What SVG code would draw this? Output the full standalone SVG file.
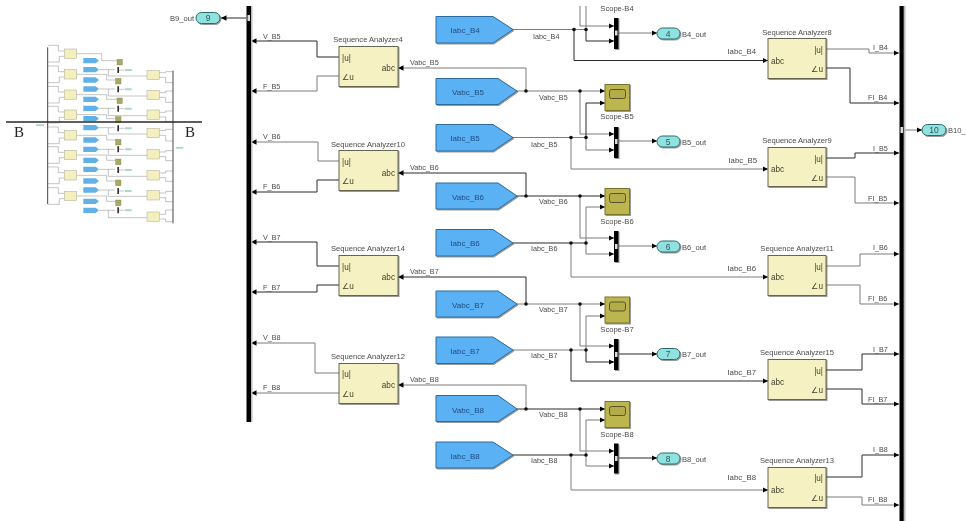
<svg xmlns="http://www.w3.org/2000/svg" width="966" height="521" viewBox="0 0 966 521">
<style>
text{font-family:"Liberation Sans","DejaVu Sans",sans-serif;font-size:7.600px;fill:#4a4a4a}
#connectors text{font-size:7.200px}
#connectors text.r{font-size:7.800px}
.c{text-anchor:middle}
.e{text-anchor:end}
.tag{fill:#5ab2f4;stroke:#2f6a9c;stroke-width:1;filter:url(#sh)}
.tt{fill:#1f4a80;font-size:8px;text-anchor:middle}
.sa{fill:#f5f1c3;stroke:#66664f;stroke-width:1;filter:url(#sh)}
.pt{fill:#3f3f2a;font-size:8.200px}
.sc{fill:#bdb650;stroke:#77752f;stroke-width:1;filter:url(#sh)}
.scr{fill:#b3ac4a;stroke:#55522a;stroke-width:1}
.mx{fill:#000;filter:url(#sh)}
.hp{fill:#ddd}
.op{fill:#8fe2df;stroke:#2f6a6c;stroke-width:1;filter:url(#sh)}
.ot{font-size:8.500px;text-anchor:middle;fill:#2c5a5a}
.d,.g{fill:none;stroke-width:1}
.d{stroke:#2c2c2c}
.g{stroke:#7d7d7d}
.a{marker-end:url(#ah)}
.dot{fill:#111}
.bus{fill:#000}
.bs{fill:#bbb}
.tb{fill:#f4efbf;stroke:#a9a98a;stroke-width:1.500}
.tw{fill:none;stroke:#8a8a8a;stroke-width:1.500}
.tg{fill:#62b1e6}
.ts{fill:#a8a965;stroke:#77773f;stroke-width:1}
.tm{fill:#333}
.to{fill:#a9d5d5}
</style>
<defs>
<marker id="ah" markerUnits="userSpaceOnUse" markerWidth="6" markerHeight="6" refX="5.500" refY="3" orient="auto"><path d="M0 .3L5.500 3L0 5.700z" fill="#000"/></marker>
<filter id="sh" x="-10%" y="-10%" width="125%" height="125%"><feDropShadow dx="1" dy="1" stdDeviation=".6" flood-color="#555" flood-opacity=".6"/></filter>
<filter id="bl" x="-5%" y="-5%" width="110%" height="110%"><feGaussianBlur stdDeviation=".45"/></filter>
<filter id="soft" filterUnits="userSpaceOnUse" x="0" y="0" width="966" height="521"><feGaussianBlur stdDeviation=".3"/></filter>
</defs>
<rect width="966" height="521" fill="#fff"/>
<g filter="url(#soft)">

<g id="overview">
<g filter="url(#bl)" transform="translate(0 30) scale(.33333)">
<path class="tw" d="M143 46H175V63H193M143 96H178V79H193M143 108H175V125H193M143 158H178V141H193M143 169H175V186H193M143 219H178V202H193M143 229H175V246H193M143 279H178V262H193M143 291H175V308H193M143 341H178V324H193M143 350H175V367H193M143 400H178V383H193M143 411H175V428H193M143 461H178V444H193M143 473H175V490H193M143 523H178V506H193"/>
<path class="tw" d="M230 71H305V92H351M230 133H320V150H351M230 194H320V208H351M230 254H320V266H351M230 316H320V330H351M230 375H320V391H351M230 436H320V453H351M230 498H320V514H351"/>
<path class="tw" d="M297 119H345M325 119V138H441M297 177H345M325 177V198H441M297 235H345M325 235V257H441M297 293H345M325 293V312H441M297 358H345M325 358V376H441M297 418H345M325 418V439H441M297 480H345M325 480V499H441M297 541H345M325 541V563H441"/>
<path class="tw" d="M357 120H373M357 178H373M357 236H373M357 295H373M357 358H373M357 420H373M357 483H373M357 541H373"/>
<path class="tw" d="M478 128H497V125H519M478 142H497V158H519M478 188H497V183H519M478 202H497V217H519M478 247H497V243H519M478 261H497V275H519M478 302H497V298H519M478 316H497V333H519M478 366H497V362H519M478 380H497V392H519M478 429H497V423H519M478 443H497V454H519M478 489H497V484H519M478 503H497V515H519M478 553H497V540H519M478 567H497V575H519"/>
<path d="M143 52V522M519 122V580" fill="none" stroke="#444" stroke-width="3"/>
<rect class="tb" x="193" y="57" width="37" height="28"/><rect class="tb" x="193" y="119" width="37" height="28"/><rect class="tb" x="193" y="180" width="37" height="28"/><rect class="tb" x="193" y="240" width="37" height="28"/><rect class="tb" x="193" y="302" width="37" height="28"/><rect class="tb" x="193" y="361" width="37" height="28"/><rect class="tb" x="193" y="422" width="37" height="28"/><rect class="tb" x="193" y="484" width="37" height="28"/>
<rect class="tb" x="441" y="121" width="37" height="28"/><rect class="tb" x="441" y="181" width="37" height="28"/><rect class="tb" x="441" y="240" width="37" height="28"/><rect class="tb" x="441" y="295" width="37" height="28"/><rect class="tb" x="441" y="359" width="37" height="28"/><rect class="tb" x="441" y="422" width="37" height="28"/><rect class="tb" x="441" y="482" width="37" height="28"/><rect class="tb" x="441" y="546" width="37" height="28"/>
<path class="tg" d="M250 84H287L297 92L287 100H250zM250 111H287L297 119L287 127H250zM250 142H287L297 150L287 158H250zM250 169H287L297 177L287 185H250zM250 200H287L297 208L287 216H250zM250 227H287L297 235L287 243H250zM250 258H287L297 266L287 274H250zM250 285H287L297 293L287 301H250zM250 322H287L297 330L287 338H250zM250 350H287L297 358L287 366H250zM250 383H287L297 391L287 399H250zM250 410H287L297 418L287 426H250zM250 445H287L297 453L287 461H250zM250 472H287L297 480L287 488H250zM250 506H287L297 514L287 522H250zM250 533H287L297 541L287 549H250z"/>
<rect class="ts" x="351" y="88" width="16" height="17"/><rect class="ts" x="347" y="145" width="16" height="17"/><rect class="ts" x="351" y="204" width="16" height="17"/><rect class="ts" x="347" y="260" width="16" height="17"/><rect class="ts" x="347" y="328" width="16" height="17"/><rect class="ts" x="347" y="387" width="16" height="17"/><rect class="ts" x="347" y="450" width="16" height="17"/><rect class="ts" x="347" y="510" width="16" height="17"/>
<path class="tm" d="M352 111h5v18h-5zM352 169h5v18h-5zM352 227h5v18h-5zM352 286h5v18h-5zM352 349h5v18h-5zM352 411h5v18h-5zM352 474h5v18h-5zM352 532h5v18h-5z"/>
<path class="to" d="M375 117h20v6h-20zM375 175h20v6h-20zM375 233h20v6h-20zM375 292h20v6h-20zM375 355h20v6h-20zM375 417h20v6h-20zM375 480h20v6h-20zM375 538h20v6h-20zM108 283h24v5h-24zM528 351h22v5h-22z"/>
</g>
<path d="M6 122H202" stroke="#2a2a2a" stroke-width="1.700" fill="none"/>
<text x="14" y="137" style="font-family:'Liberation Serif',serif;font-size:15px;fill:#222">B</text>
<text x="185" y="137" style="font-family:'Liberation Serif',serif;font-size:15px;fill:#222">B</text>
</g>

<g id="connectors">
<path class="d a" d="M246 18H221"/>
<path class="d a" d="M339 57H317V41H251"/><path class="g a" d="M339 76H317V91H251"/>
<path class="g a" d="M339 161H318V142H251"/><path class="d a" d="M339 180H317V192H251"/>
<path class="d a" d="M339 266H317V242H251"/><path class="d a" d="M339 285H317V292H251"/>
<path class="g a" d="M339 373H315V343H251"/><path class="g a" d="M339 393H251"/>

<path class="g a" d="M526 91V68H398"/><path class="d a" d="M526 196V173H398"/><path class="d a" d="M526 304V277H398"/><path class="g a" d="M526 409V385H398"/>

<path class="g" d="M513 29.500H586"/><path class="d a" d="M574 29.500V60.500H768"/>
<path class="g a" d="M580 6V26H614"/><path class="g" d="M586 6V29.500"/><path class="d a" d="M586 29.500V41H614"/>
<path class="g a" d="M619 33H657"/>

<path class="g a" d="M517 91H605"/><path class="g a" d="M580 91V134H614"/><path class="d a" d="M586 137.500V103H605"/>
<path class="g" d="M513 137.500H586"/><path class="g a" d="M586 137.500V150H614"/><path class="g a" d="M571 137.500V169H768"/><path class="g a" d="M619 141H657"/>

<path class="d a" d="M517 196H605"/><path class="g a" d="M580 196V238H614"/><path class="g a" d="M586 243V207H605"/>
<path class="d" d="M513 243H586"/><path class="g a" d="M586 243V254H614"/><path class="g a" d="M571 243V277H768"/><path class="g a" d="M619 246H657"/>

<path class="g a" d="M517 304H605"/><path class="g a" d="M580 304V346H614"/><path class="g a" d="M586 350V316H605"/>
<path class="g" d="M513 350H586"/><path class="d a" d="M586 350V362H614"/><path class="d a" d="M571 350V381H768"/><path class="d a" d="M619 354H657"/>

<path class="d a" d="M517 409H605"/><path class="g a" d="M580 409V451H614"/><path class="g a" d="M586 455V420H605"/>
<path class="d" d="M513 455H586"/><path class="g a" d="M586 455V466H614"/><path class="g a" d="M571 455V490H768"/><path class="d a" d="M619 458H657"/>

<path class="g a" d="M826 49H869V53H899"/><path class="d a" d="M826 68H850V103H899"/>
<path class="d a" d="M826 158H855V153H899"/><path class="g a" d="M826 177H855V203H899"/>
<path class="g a" d="M826 266H860V254H899"/><path class="g a" d="M826 285H860V304H899"/>
<path class="d a" d="M826 370H862V354H899"/><path class="d a" d="M826 389H862V404H899"/>
<path class="d a" d="M826 477H862V455H899"/><path class="g a" d="M826 497H862V505H899"/>
<path class="g a" d="M904 130H922"/>

<g class="dot">
<circle cx="574" cy="29.500" r="1.800"/><circle cx="586" cy="29.500" r="1.800"/>
<circle cx="526" cy="91" r="1.800"/><circle cx="580" cy="91" r="1.800"/><circle cx="571" cy="137.500" r="1.800"/><circle cx="586" cy="137.500" r="1.800"/>
<circle cx="526" cy="196" r="1.800"/><circle cx="580" cy="196" r="1.800"/><circle cx="571" cy="243" r="1.800"/><circle cx="586" cy="243" r="1.800"/>
<circle cx="526" cy="304" r="1.800"/><circle cx="580" cy="304" r="1.800"/><circle cx="571" cy="350" r="1.800"/><circle cx="586" cy="350" r="1.800"/>
<circle cx="526" cy="409" r="1.800"/><circle cx="580" cy="409" r="1.800"/><circle cx="571" cy="455" r="1.800"/><circle cx="586" cy="455" r="1.800"/>
</g>

<text x="263" y="38.500">V_B5</text><text x="263" y="88.500">F_B5</text>
<text x="263" y="138.500">V_B6</text><text x="263" y="188.500">F_B6</text>
<text x="263" y="239.500">V_B7</text><text x="263" y="289.500">F_B7</text>
<text x="263" y="339.500">V_B8</text><text x="263" y="389.500">F_B8</text>
<text x="410" y="65">Vabc_B5</text><text x="410" y="169.500">Vabc_B6</text><text x="410" y="274">Vabc_B7</text><text x="410" y="382">Vabc_B8</text>
<text x="533" y="38.500">Iabc_B4</text><text x="531" y="146.500">Iabc_B5</text><text x="531" y="250.500">Iabc_B6</text><text x="531" y="358">Iabc_B7</text><text x="531" y="463">Iabc_B8</text>
<text x="539" y="100">Vabc_B5</text><text x="539" y="204">Vabc_B6</text><text x="539" y="312">Vabc_B7</text><text x="539" y="417">Vabc_B8</text>
<text class="e r" x="756" y="53.500">Iabc_B4</text><text class="e r" x="757" y="162.500">Iabc_B5</text><text class="e r" x="756" y="270.500">Iabc_B6</text><text class="e r" x="756" y="375">Iabc_B7</text><text class="e r" x="756" y="479.500">Iabc_B8</text>
<text x="873" y="50">I_B4</text><text x="868" y="100">FI_B4</text>
<text x="873" y="151">I_B5</text><text x="868" y="200.500">FI_B5</text>
<text x="873" y="250">I_B6</text><text x="868" y="301">FI_B6</text>
<text x="873" y="351.500">I_B7</text><text x="868" y="401.500">FI_B7</text>
<text x="873" y="451.500">I_B8</text><text x="868" y="502">FI_B8</text>
</g>

<g id="bus-left"><rect class="bs" x="251" y="6" width="1.500" height="416"/><rect class="bus" x="246.500" y="6" width="4.500" height="416"/><rect class="hp" x="247.500" y="15" width="2.500" height="6"/></g>
<g id="bus-right"><rect class="bs" x="903.500" y="6" width="2" height="515"/><rect class="bus" x="899.500" y="6" width="4.200" height="515"/><rect class="hp" x="900.500" y="127" width="2.500" height="6"/></g>

<g id="out-b9"><rect class="op" x="196" y="12.500" width="24" height="11" rx="5.500"/><text class="ot" x="208" y="21">9</text><text class="e" x="194" y="20.500">B9_out</text></g>
<g id="out-b10"><rect class="op" x="922" y="124.500" width="24" height="11" rx="5.500"/><text class="ot" x="934" y="133">10</text><text x="948" y="133">B10_</text></g>

<g id="sa4"><rect class="sa" x="339" y="46.500" width="59" height="40"/><text class="c" x="368" y="41.500">Sequence Analyzer4</text><text class="pt" x="342" y="60.500">|u|</text><text class="pt" x="342" y="80">∠u</text><text class="pt e" x="395" y="71">abc</text></g>
<g id="sa10"><rect class="sa" x="339" y="150.500" width="59" height="40"/><text class="c" x="368" y="146.500">Sequence Analyzer10</text><text class="pt" x="342" y="164.500">|u|</text><text class="pt" x="342" y="184">∠u</text><text class="pt e" x="395" y="176">abc</text></g>
<g id="sa14"><rect class="sa" x="339" y="255.500" width="59" height="40"/><text class="c" x="368" y="251">Sequence Analyzer14</text><text class="pt" x="342" y="269.500">|u|</text><text class="pt" x="342" y="289">∠u</text><text class="pt e" x="395" y="280">abc</text></g>
<g id="sa12"><rect class="sa" x="339" y="363.500" width="59" height="40"/><text class="c" x="368" y="359">Sequence Analyzer12</text><text class="pt" x="342" y="376.500">|u|</text><text class="pt" x="342" y="397">∠u</text><text class="pt e" x="395" y="388">abc</text></g>

<g id="tag-iabc-b4"><path class="tag" d="M436 16.500H493L513 29.500L493 43H436z"/><text class="tt" x="465" y="33">Iabc_B4</text></g>
<g id="tag-vabc-b5"><path class="tag" d="M436 78.500H498L517 91L498 104.500H436z"/><text class="tt" x="468" y="94.500">Vabc_B5</text></g>
<g id="tag-iabc-b5"><path class="tag" d="M436 124.500H493L513 137.500L493 151H436z"/><text class="tt" x="465" y="141">Iabc_B5</text></g>
<g id="tag-vabc-b6"><path class="tag" d="M436 183H498L517 196L498 209H436z"/><text class="tt" x="468" y="199.500">Vabc_B6</text></g>
<g id="tag-iabc-b6"><path class="tag" d="M436 229.500H493L513 243L493 256H436z"/><text class="tt" x="465" y="245.500">Iabc_B6</text></g>
<g id="tag-vabc-b7"><path class="tag" d="M436 291H498L517 304L498 317H436z"/><text class="tt" x="468" y="307.500">Vabc_B7</text></g>
<g id="tag-iabc-b7"><path class="tag" d="M436 337H493L513 350L493 363.500H436z"/><text class="tt" x="465" y="353.500">Iabc_B7</text></g>
<g id="tag-vabc-b8"><path class="tag" d="M436 395.500H498L517 409L498 421.500H436z"/><text class="tt" x="468" y="412.500">Vabc_B8</text></g>
<g id="tag-iabc-b8"><path class="tag" d="M436 442H493L513 455L493 468H436z"/><text class="tt" x="465" y="458.500">Iabc_B8</text></g>

<g id="scope-b4"><text class="c" x="617" y="10.500">Scope-B4</text></g>
<g id="scope-b5"><rect class="sc" x="605" y="84.500" width="24.500" height="26"/><rect class="scr" x="609.500" y="89.500" width="16" height="9" rx="2"/><text class="c" x="617" y="119">Scope-B5</text></g>
<g id="scope-b6"><rect class="sc" x="605" y="188.500" width="24.500" height="26"/><rect class="scr" x="609.500" y="193.500" width="16" height="9" rx="2"/><text class="c" x="617" y="224">Scope-B6</text></g>
<g id="scope-b7"><rect class="sc" x="605" y="297" width="24.500" height="26"/><rect class="scr" x="609.500" y="302" width="16" height="9" rx="2"/><text class="c" x="617" y="332">Scope-B7</text></g>
<g id="scope-b8"><rect class="sc" x="605" y="401.500" width="24.500" height="26"/><rect class="scr" x="609.500" y="406.500" width="16" height="9" rx="2"/><text class="c" x="617" y="437">Scope-B8</text></g>

<g id="mux-b4"><rect class="mx" x="614" y="18" width="4.500" height="31"/><rect class="hp" x="615" y="30.500" width="2.500" height="5"/></g>
<g id="mux-b5"><rect class="mx" x="614" y="127" width="4.500" height="31"/><rect class="hp" x="615" y="139" width="2.500" height="5"/></g>
<g id="mux-b6"><rect class="mx" x="614" y="231" width="4.500" height="31"/><rect class="hp" x="615" y="244" width="2.500" height="5"/></g>
<g id="mux-b7"><rect class="mx" x="614" y="339" width="4.500" height="31"/><rect class="hp" x="615" y="352" width="2.500" height="5"/></g>
<g id="mux-b8"><rect class="mx" x="614" y="443.500" width="4.500" height="30"/><rect class="hp" x="615" y="456" width="2.500" height="5"/></g>

<g id="out-b4"><rect class="op" x="657" y="28" width="23" height="11" rx="5.500"/><text class="ot" x="668" y="36.500">4</text><text x="682" y="36.500">B4_out</text></g>
<g id="out-b5"><rect class="op" x="657" y="136" width="23" height="11" rx="5.500"/><text class="ot" x="668" y="144.500">5</text><text x="682" y="144.500">B5_out</text></g>
<g id="out-b6"><rect class="op" x="657" y="241" width="23" height="11" rx="5.500"/><text class="ot" x="668" y="249.500">6</text><text x="682" y="249.500">B6_out</text></g>
<g id="out-b7"><rect class="op" x="657" y="348.500" width="23" height="11" rx="5.500"/><text class="ot" x="668" y="357">7</text><text x="682" y="357">B7_out</text></g>
<g id="out-b8"><rect class="op" x="657" y="453" width="23" height="11" rx="5.500"/><text class="ot" x="668" y="461.500">8</text><text x="682" y="461.500">B8_out</text></g>

<g id="sa8"><rect class="sa" x="768" y="38.500" width="58" height="40"/><text class="c" x="797" y="34.500">Sequence Analyzer8</text><text class="pt" x="771" y="64">abc</text><text class="pt e" x="823" y="52.500">|u|</text><text class="pt e" x="823" y="72">∠u</text></g>
<g id="sa9"><rect class="sa" x="768" y="147.500" width="58" height="39"/><text class="c" x="797" y="143">Sequence Analyzer9</text><text class="pt" x="771" y="172">abc</text><text class="pt e" x="823" y="161.500">|u|</text><text class="pt e" x="823" y="181">∠u</text></g>
<g id="sa11"><rect class="sa" x="768" y="255.500" width="58" height="40"/><text class="c" x="797" y="251">Sequence Analyzer11</text><text class="pt" x="771" y="280">abc</text><text class="pt e" x="823" y="269.500">|u|</text><text class="pt e" x="823" y="289">∠u</text></g>
<g id="sa15"><rect class="sa" x="768" y="359.500" width="58" height="40"/><text class="c" x="797" y="355">Sequence Analyzer15</text><text class="pt" x="771" y="384.500">abc</text><text class="pt e" x="823" y="373.500">|u|</text><text class="pt e" x="823" y="393">∠u</text></g>
<g id="sa13"><rect class="sa" x="768" y="467.500" width="58" height="40"/><text class="c" x="797" y="463">Sequence Analyzer13</text><text class="pt" x="771" y="493">abc</text><text class="pt e" x="823" y="481">|u|</text><text class="pt e" x="823" y="501">∠u</text></g>
</g>
</svg>
